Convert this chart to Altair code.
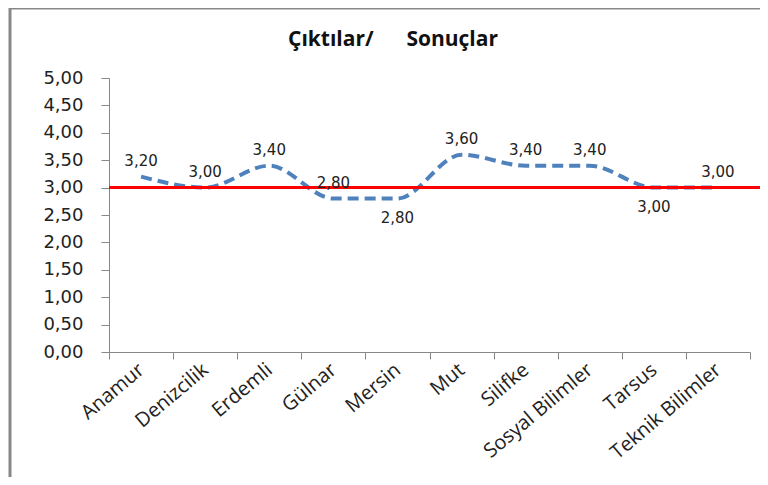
import altair as alt
import pandas as pd

categories = ["Anamur", "Denizcilik", "Erdemli", "Gülnar", "Mersin", "Mut",
              "Silifke", "Sosyal Bilimler", "Tarsus", "Teknik Bilimler"]
values = [3.20, 3.00, 3.40, 2.80, 2.80, 3.60, 3.40, 3.40, 3.00, 3.00]
label_side = ["above", "above", "above", "above", "below", "above",
              "above", "above", "below", "above"]
reference_value = 3.0
y_ticks = [0, 0.5, 1, 1.5, 2, 2.5, 3, 3.5, 4, 4.5, 5]
title_text = "Çıktılar/" + "\u00a0" * 6 + "Sonuçlar"

df = pd.DataFrame({
    "cat": categories,
    "val": values,
    "side": label_side,
    "txt": [f"{v:.2f}".replace(".", ",") for v in values],
})

W, H = 641, 274

x = alt.X("cat:N", sort=categories, title=None,
          scale=alt.Scale(paddingInner=0, paddingOuter=0),
          axis=alt.Axis(labelAngle=-40, labelAlign="right", labelBaseline="middle",
                        labelFont="Open Sans", labelFontSize=20, labelColor="#222",
                        labelPadding=8, tickBand="extent", tickSize=7,
                        tickColor="#888", domainColor="#888", labelOverlap=False))
y_axis = alt.Axis(values=y_ticks, grid=False, labelOverlap=False,
                  labelExpr="replace(format(datum.value, '.2f'), '.', ',')",
                  labelFont="DejaVu Sans", labelFontSize=18, labelColor="#222",
                  labelPadding=18, tickSize=8, tickColor="#888",
                  domainColor="#888")
y_scale = alt.Scale(domain=[0, 5], nice=False)
y = alt.Y("val:Q", title=None, scale=y_scale, axis=y_axis)

base = alt.Chart(df)

line = base.mark_line(color="#4F81BD", strokeWidth=4, strokeDash=[11, 6],
                      interpolate="monotone").encode(x=x, y=y)

ref = alt.Chart(pd.DataFrame({"r": [reference_value]})).mark_rule(
    color="#FF0000", strokeWidth=3).encode(
    y=alt.Y("r:Q", title=None, scale=y_scale, axis=y_axis),
    x=alt.value(0), x2=alt.value(658))

lab_above = base.transform_filter("datum.side == 'above'").mark_text(
    dy=-16, font="DejaVu Sans", fontSize=15, color="#222").encode(
    x=x, y=y, text="txt:N")
lab_below = base.transform_filter("datum.side == 'below'").mark_text(
    dy=19, font="DejaVu Sans", fontSize=15, color="#222").encode(
    x=x, y=y, text="txt:N")

title = alt.Chart(pd.DataFrame({"t": [title_text]})).mark_text(
    font="Open Sans", fontSize=21, fontWeight="bold", color="#111",
    align="center", baseline="middle").encode(
    x=alt.value(284), y=alt.value(-38), text="t:N")

frame_left = alt.Chart(pd.DataFrame({"a": [0]})).mark_rule(
    color="#888", strokeWidth=3).encode(
    x=alt.value(-99), y=alt.value(-70), y2=alt.value(140 + H))
frame_top = alt.Chart(pd.DataFrame({"a": [0]})).mark_rule(
    color="#888", strokeWidth=3).encode(
    y=alt.value(-70), x=alt.value(-100), x2=alt.value(665))

chart = alt.layer(line, ref, lab_above, lab_below, title, frame_left, frame_top).properties(
    width=W, height=H,
    autosize=alt.AutoSizeParams(type="none"),
    padding={"left": 101, "top": 70, "right": 10, "bottom": 125},
).configure_view(stroke=None)

chart.save("out.html", embed_options={"renderer": "svg", "actions": False})
